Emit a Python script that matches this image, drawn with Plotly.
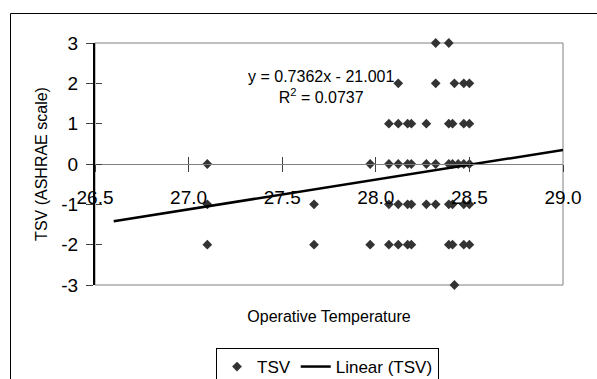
import plotly.graph_objects as go

# Operative temperature (°C) vs thermal sensation vote, grouped by vote
tsv_levels = [3, 2, 1, 0, -1, -2, -3]
temps_by_level = [
    [28.32, 28.39],
    [28.12, 28.32, 28.42, 28.47, 28.50],
    [28.07, 28.12, 28.17, 28.19, 28.27, 28.39, 28.41, 28.47, 28.50],
    [27.10, 27.97, 28.07, 28.12, 28.17, 28.19, 28.27, 28.32, 28.39, 28.41, 28.44, 28.47, 28.50],
    [27.10, 27.67, 28.07, 28.12, 28.17, 28.19, 28.27, 28.32, 28.39, 28.41, 28.47, 28.50],
    [27.10, 27.67, 27.97, 28.07, 28.12, 28.17, 28.19, 28.39, 28.41, 28.47, 28.50],
    [28.42],
]

# Linear trendline y = a*x + b, extended 0.5 beyond the data on both sides
slope = 0.7362
intercept = -21.001
r_squared = 0.0737
forecast = 0.5

x_ticks = [26.5, 27.0, 27.5, 28.0, 28.5, 29.0]
y_ticks = [-3, -2, -1, 0, 1, 2, 3]

temps = [t for row in temps_by_level for t in row]
votes = [v for v, row in zip(tsv_levels, temps_by_level) for _ in row]

x_lo = min(temps) - forecast
x_hi = max(temps) + forecast
trend_x = [x_lo, x_hi]
trend_y = [slope * x + intercept for x in trend_x]

FONT = "Liberation Sans, Arial, sans-serif"

fig = go.Figure()
fig.add_trace(go.Scatter(
    x=temps, y=votes, mode="markers", name="TSV",
    marker=dict(symbol="diamond", size=7.5, color="#333333"),
    cliponaxis=False,
))
fig.add_trace(go.Scatter(
    x=trend_x, y=trend_y, mode="lines", name="Linear (TSV)",
    line=dict(color="black", width=2.5),
    cliponaxis=False,
))
# empty helper trace so the overlay axes (inner half of crossing ticks) are drawn
fig.add_trace(go.Scatter(x=[], y=[], xaxis="x2", yaxis="y2",
                         showlegend=False, hoverinfo="skip"))

# plot-area placement in pixels, used for the frame shapes and legend
W, H = 597, 379
ml, mr, mt, mb = 95, 34, 43, 94
pw, ph = W - ml - mr, H - mt - mb


def px_x(p):
    return (p - ml) / pw


def px_y(p):
    return (H - mb - p) / ph


fig.update_layout(
    width=W, height=H,
    margin=dict(l=ml, r=mr, t=mt, b=mb, autoexpand=False),
    paper_bgcolor="white", plot_bgcolor="white",
    font=dict(family=FONT, color="black"),
    showlegend=True,
    legend=dict(
        orientation="h", x=px_x(216), xanchor="left", y=px_y(348), yanchor="top",
        bordercolor="black", borderwidth=1, bgcolor="white",
        font=dict(size=17, family=FONT), itemsizing="trace",
        tracegroupgap=0,
    ),
    xaxis=dict(
        range=[26.5, 29.0], tickvals=x_ticks, ticktext=[f"{v:.1f}" for v in x_ticks],
        anchor="free", position=0.5,
        showline=True, linecolor="#808080", linewidth=1,
        ticks="outside", ticklen=7, tickcolor="#404040", tickwidth=1,
        ticklabelstandoff=9,
        tickfont=dict(size=19, family=FONT),
        showgrid=False, zeroline=False,
        title=dict(text="Operative Temperature", font=dict(size=16, family=FONT),
                   standoff=104),
    ),
    xaxis2=dict(
        range=[26.5, 29.0], tickvals=x_ticks, overlaying="x", matches="x",
        anchor="free", position=0.5,
        showline=False, ticks="inside", ticklen=7, tickcolor="#404040", tickwidth=1,
        showticklabels=False, showgrid=False, zeroline=False,
    ),
    yaxis=dict(
        range=[-3, 3], tickvals=y_ticks, ticktext=[str(v) for v in y_ticks],
        showline=True, linecolor="black", linewidth=2,
        ticks="outside", ticklen=7, tickcolor="#404040", tickwidth=1,
        ticklabelstandoff=4,
        tickfont=dict(size=19, family=FONT),
        showgrid=False, zeroline=False,
        title=dict(text="TSV (ASHRAE scale)", font=dict(size=16, family=FONT),
                   standoff=10),
    ),
    yaxis2=dict(
        range=[-3, 3], tickvals=y_ticks, overlaying="y", matches="y",
        anchor="free", position=0, side="left",
        showline=False, ticks="inside", ticklen=6, tickcolor="#404040", tickwidth=1,
        showticklabels=False, showgrid=False, zeroline=False,
    ),
    shapes=[
        # plot-area frame
        dict(type="rect", xref="paper", yref="paper", x0=0, x1=1, y0=0, y1=1,
             line=dict(color="#808080", width=1), layer="below"),
        # chart-area frame
        dict(type="rect", xref="paper", yref="paper",
             x0=px_x(10.5), x1=px_x(W + 10), y0=px_y(13.5), y1=px_y(H + 10),
             line=dict(color="black", width=1), layer="below"),
    ],
    annotations=[
        dict(
            x=26.5 + (321 - ml) / pw * 2.5, y=1.92, xref="x", yref="y",
            text=f"y = {slope}x - {abs(intercept):.3f}<br>R<sup>2</sup> = {r_squared}",
            showarrow=False, align="center",
            font=dict(size=16, family=FONT, color="black"),
        ),
    ],
)

fig.write_html("out.html")
